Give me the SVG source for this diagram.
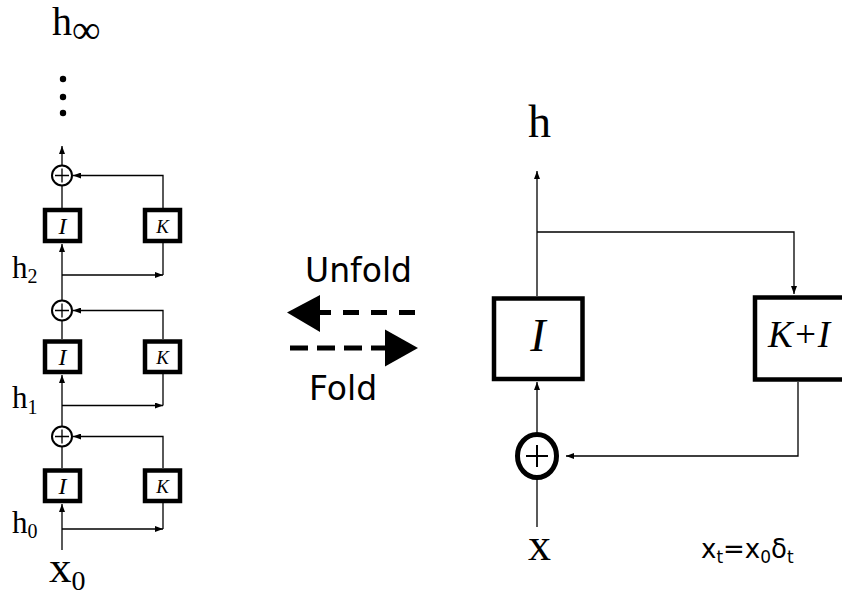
<svg xmlns="http://www.w3.org/2000/svg" width="842" height="596" viewBox="0 0 842 596">
<style>
.ln{fill:none;stroke:#000;stroke-width:1.3}
.box{fill:#fff;stroke:#000;stroke-width:4.5}
.sum{fill:#fff;stroke:#000;stroke-width:2}
.ser{font-family:"Liberation Serif","Times New Roman",serif;fill:#000}
.it{font-style:italic}
.sans{font-family:"DejaVu Sans",Verdana,sans-serif;fill:#000}
.dash{fill:none;stroke:#000;stroke-width:5}
</style>
<defs>
<marker id="ah" markerUnits="userSpaceOnUse" markerWidth="8" markerHeight="6" refX="8" refY="3" orient="auto">
<path d="M0,0 L8,3 L0,6 z" fill="#000"/>
</marker>
</defs>
<rect width="842" height="596" fill="#fff"/>

<g id="connectors">
<line class="ln" x1="62" y1="165" x2="62" y2="146" marker-end="url(#ah)"/>
<line class="ln" x1="62" y1="186" x2="62" y2="208"/>
<line class="ln" x1="62" y1="300" x2="62" y2="244" marker-end="url(#ah)"/>
<line class="ln" x1="62" y1="321" x2="62" y2="339"/>
<line class="ln" x1="62" y1="426" x2="62" y2="375" marker-end="url(#ah)"/>
<line class="ln" x1="62" y1="447" x2="62" y2="468"/>
<line class="ln" x1="62" y1="550" x2="62" y2="504" marker-end="url(#ah)"/>
<polyline class="ln" points="163,208 163,175.5 73,175.5" marker-end="url(#ah)"/>
<polyline class="ln" points="163,243 163,275"/>
<line class="ln" x1="62" y1="275" x2="163" y2="275" marker-end="url(#ah)"/>
<polyline class="ln" points="163,339 163,310.5 73,310.5" marker-end="url(#ah)"/>
<polyline class="ln" points="163,374 163,405.5"/>
<line class="ln" x1="62" y1="405.5" x2="163" y2="405.5" marker-end="url(#ah)"/>
<polyline class="ln" points="163,468 163,436.5 73,436.5" marker-end="url(#ah)"/>
<polyline class="ln" points="163,503 163,529"/>
<line class="ln" x1="62" y1="529" x2="163" y2="529" marker-end="url(#ah)"/>

<line class="ln" x1="537" y1="296" x2="537" y2="171" marker-end="url(#ah)"/>
<polyline class="ln" points="537,232 794,232 794,294" marker-end="url(#ah)"/>
<line class="ln" x1="537" y1="432" x2="537" y2="382" marker-end="url(#ah)"/>
<line class="ln" x1="537" y1="480" x2="537" y2="527"/>
<polyline class="ln" points="798,382 798,456 566,456" marker-end="url(#ah)"/>

<line class="dash" x1="415" y1="312.5" x2="320" y2="312.5" stroke-dasharray="16 12"/>
<polygon points="287,312.5 320,295 320,332" fill="#000"/>
<line class="dash" x1="290" y1="348" x2="387" y2="348" stroke-dasharray="18 9"/>
<polygon points="418,348 385,329.5 385,366.5" fill="#000"/>
</g>

<g id="sum1"><circle class="sum" cx="62" cy="175.5" r="10"/><path class="ln" d="M55,175.5 H69 M62,168.5 V182.5"/></g>
<g id="I1"><rect class="box" x="45" y="210" width="35" height="31"/><text class="ser it" x="62.5" y="233.5" font-size="24" text-anchor="middle">I</text></g>
<g id="K1"><rect class="box" x="145" y="210" width="35" height="31"/><text class="ser it" x="162.5" y="232.5" font-size="19" text-anchor="middle">K</text></g>

<g id="sum2"><circle class="sum" cx="62" cy="310.5" r="10"/><path class="ln" d="M55,310.5 H69 M62,303.5 V317.5"/></g>
<g id="I2"><rect class="box" x="45" y="341.5" width="35" height="30.5"/><text class="ser it" x="62.5" y="365" font-size="24" text-anchor="middle">I</text></g>
<g id="K2"><rect class="box" x="145" y="341.5" width="35" height="30.5"/><text class="ser it" x="162.5" y="364" font-size="19" text-anchor="middle">K</text></g>

<g id="sum3"><circle class="sum" cx="62" cy="436.5" r="10"/><path class="ln" d="M55,436.5 H69 M62,429.5 V443.5"/></g>
<g id="I3"><rect class="box" x="45" y="470.5" width="35" height="30.5"/><text class="ser it" x="62.5" y="494" font-size="24" text-anchor="middle">I</text></g>
<g id="K3"><rect class="box" x="145" y="470.5" width="35" height="30.5"/><text class="ser it" x="162.5" y="493" font-size="19" text-anchor="middle">K</text></g>

<g id="labels-left">
<text class="ser" x="52" y="35" font-size="40">h<tspan dy="8">∞</tspan></text>
<circle cx="63" cy="79" r="3.2" fill="#000"/>
<circle cx="63" cy="97" r="3.2" fill="#000"/>
<circle cx="63" cy="113" r="3.2" fill="#000"/>
<text class="ser" x="12" y="278" font-size="31">h<tspan font-size="20" dy="5">2</tspan></text>
<text class="ser" x="12" y="408" font-size="31">h<tspan font-size="20" dy="6">1</tspan></text>
<text class="ser" x="12" y="533" font-size="31">h<tspan font-size="20" dy="5">0</tspan></text>
<text class="ser" x="49" y="582" font-size="45">x<tspan font-size="28" dy="8">0</tspan></text>
</g>

<g id="Ibig"><rect class="box" x="494" y="298.5" width="88.5" height="80.5"/><text class="ser it" x="538" y="351" font-size="46" text-anchor="middle">I</text></g>
<g id="KI"><rect class="box" x="755" y="297.5" width="100" height="82"/><text class="ser it" x="768" y="347" font-size="37">K+I</text></g>
<g id="sumbig"><ellipse cx="537" cy="456" rx="19.5" ry="21.5" fill="#fff" stroke="#000" stroke-width="5"/><path d="M526,456 H548 M537,445 V467" stroke="#000" stroke-width="2" fill="none"/></g>

<g id="labels-right">
<text class="ser" x="528" y="137" font-size="46">h</text>
<text class="ser" x="528" y="560" font-size="46">x</text>
<text class="sans" x="701" y="558" font-size="26">x<tspan font-size="17" dy="5">t</tspan><tspan dy="-5">=x</tspan><tspan font-size="17" dy="5">0</tspan><tspan dy="-5">δ</tspan><tspan font-size="17" dy="5">t</tspan></text>
<text class="sans" x="305" y="282" font-size="33">Unfold</text>
<text class="sans" x="309" y="400" font-size="33">Fold</text>
</g>
</svg>
